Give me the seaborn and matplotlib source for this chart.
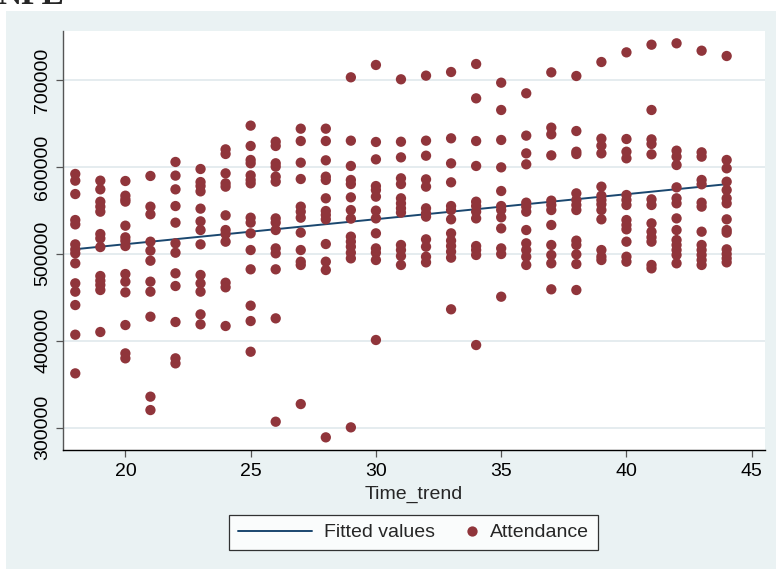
import numpy as np
import pandas as pd
import matplotlib
matplotlib.use("Agg")
import matplotlib.pyplot as plt
from matplotlib.patches import Rectangle
from matplotlib.lines import Line2D
from matplotlib.legend_handler import HandlerLine2D
import seaborn as sns

# Attendance by time-trend value
att_18 = [591900, 584200, 568800, 538900, 533900, 510900, 505100, 500600, 489100, 466100, 456500, 441100, 407000, 362500]
att_19 = [584200, 574200, 560000, 554300, 548500, 522800, 517800, 507800, 474500, 469100, 464200, 458400, 410100]
att_20 = [583800, 566900, 562700, 560100, 532400, 519000, 515000, 509000, 476800, 468000, 455700, 418100, 385500, 379800]
att_21 = [589600, 554300, 545500, 514000, 503700, 492100, 468000, 456500, 427700, 335700, 320300]
att_22 = [605700, 590000, 574200, 555000, 535900, 512100, 501300, 477600, 463000, 421600, 379800, 374000]
att_23 = [597600, 582600, 578000, 571900, 552000, 537400, 527400, 510900, 475700, 466100, 456500, 430400, 418900]
att_24 = [620200, 614900, 592600, 581100, 577300, 544300, 527400, 522800, 514000, 466800, 461500, 417000]
att_25 = [647500, 624100, 608000, 604200, 590300, 585000, 581100, 541600, 535900, 523600, 504400, 482200, 440400, 422700, 387400]
att_26 = [629000, 624100, 604200, 600300, 588800, 583100, 540800, 535900, 527400, 506300, 500600, 482200, 425800, 306900]
att_27 = [644000, 629800, 604900, 586100, 554300, 548500, 541600, 524400, 504400, 491000, 487200, 327200]
att_28 = [644000, 629800, 607600, 588800, 585000, 563900, 549300, 544700, 539700, 511300, 491000, 481400, 288900]
att_29 = [703100, 630200, 601100, 585000, 580300, 565000, 550400, 540500, 519800, 514000, 508200, 501300, 494800, 300400]
att_30 = [717300, 628700, 608700, 578000, 573400, 565800, 549700, 540800, 523600, 506300, 501300, 492900, 400900]
att_31 = [700800, 629000, 611000, 586900, 580300, 563900, 558100, 552400, 547400, 510200, 504400, 497500, 487200]
att_32 = [705000, 630200, 612900, 585700, 577300, 552400, 546600, 542800, 516700, 508200, 496700, 490200]
att_33 = [709200, 632900, 604100, 582300, 555000, 550400, 539700, 523600, 515200, 509000, 502500, 495600, 436200]
att_34 = [718400, 678900, 629800, 601100, 560000, 555000, 548500, 540800, 509000, 504400, 498700, 395100]
att_35 = [696900, 665500, 631000, 599500, 572300, 555000, 550400, 542000, 529300, 506300, 499800, 450700]
att_36 = [684700, 636000, 615600, 603000, 558900, 554300, 548500, 527400, 512100, 504400, 496700, 487200]
att_37 = [708800, 645200, 637500, 613300, 561200, 556200, 550400, 533200, 510200, 498700, 489100, 459200]
att_38 = [704600, 641300, 617500, 614800, 569600, 561900, 556200, 550400, 515200, 510200, 499400, 488300, 458400]
att_39 = [720700, 632500, 624400, 615600, 577300, 566900, 561900, 557000, 550400, 539700, 504400, 496700, 492900]
att_40 = [731800, 632100, 617500, 609900, 567700, 561900, 556200, 538900, 533200, 528200, 514000, 496700, 491000]
att_41 = [740600, 665500, 631700, 626400, 614500, 562700, 556200, 535100, 525500, 519000, 514000, 487200, 483300]
att_42 = [742200, 618700, 611800, 602200, 576500, 563900, 558100, 540800, 527400, 515900, 510200, 504400, 498700, 489100]
att_43 = [733700, 616800, 611800, 585000, 580000, 558900, 554300, 525500, 510200, 504400, 498700, 492900, 487200]
att_44 = [727600, 608000, 598400, 583000, 573400, 563900, 558100, 539700, 527400, 524400, 505200, 499800, 494800, 490200]

time_values = list(range(18, 45))
columns = [att_18, att_19, att_20, att_21, att_22, att_23, att_24, att_25, att_26,
           att_27, att_28, att_29, att_30, att_31, att_32, att_33, att_34, att_35,
           att_36, att_37, att_38, att_39, att_40, att_41, att_42, att_43, att_44]

x_ticks = [20, 25, 30, 35, 40, 45]
y_ticks = [300000, 400000, 500000, 600000, 700000]

df = pd.DataFrame({
    "Time_trend": np.concatenate([[t] * len(c) for t, c in zip(time_values, columns)]),
    "Attendance": np.concatenate(columns),
})

BG = "#EAF2F3"
MAROON = "#90353B"
NAVY = "#1A476F"

sns.set_style("white")
plt.rcParams["font.family"] = ["Liberation Sans", "DejaVu Sans"]

fig = plt.figure(figsize=(7.76, 5.69), dpi=100)
fig.patch.set_facecolor("white")
fig.patches.append(Rectangle((6 / 776, 0), 1, (569 - 11) / 569, transform=fig.transFigure,
                             facecolor=BG, edgecolor="none", zorder=-10))
# Page header sitting just above the graph frame
fig.text(-3 / 776, 1 - 3.5 / 569, "NFL", fontsize=24, fontweight="bold",
         family=["Liberation Serif", "DejaVu Serif"], va="baseline", ha="left")

ax = fig.add_axes([63 / 776, 1 - 450 / 569, (765 - 63) / 776, (450 - 31) / 569])
ax.set_facecolor("white")

sns.regplot(data=df, x="Time_trend", y="Attendance", scatter=False, ci=None,
            color=NAVY, line_kws={"lw": 1.4, "zorder": 2}, ax=ax)
sns.scatterplot(data=df, x="Time_trend", y="Attendance", color=MAROON, s=55,
                edgecolor="none", linewidth=0, zorder=3, ax=ax)

ax.set_xlim(17.51, 45.53)
ax.set_ylim(274350, 756370)
ax.set_xticks(x_ticks)
ax.set_yticks(y_ticks)
ax.set_yticklabels([str(v) for v in y_ticks], rotation=90, va="center")
ax.set_xlabel("Time_trend", fontsize=14, labelpad=4.2)
ax.set_ylabel("")

ax.yaxis.grid(True, color="#E3EBEE", lw=1.3)
ax.xaxis.grid(False)
ax.set_axisbelow(True)

for side in ("top", "right"):
    ax.spines[side].set_visible(False)
ax.spines["left"].set_color("#555555")
ax.spines["bottom"].set_color("black")
ax.spines["left"].set_linewidth(1.0)
ax.spines["bottom"].set_linewidth(1.0)
ax.tick_params(axis="both", which="major", length=5, width=0.9, color="#555555",
               labelsize=14, labelcolor="black", direction="out")
ax.tick_params(axis="y", pad=3.5)
ax.tick_params(axis="x", pad=4)
ax.tick_params(left=True, bottom=True)


class _EndMarkerHandler(HandlerLine2D):
    """Place the single legend marker near the right end of its key."""
    def get_xdata(self, legend, xdescent, ydescent, width, height, fontsize):
        c = -xdescent + width - 4.5
        return [c - 1, c + 1], [c]


line_handle = Line2D([], [], color=NAVY, lw=1.4)
dot_handle = Line2D([], [], color=MAROON, marker="o", linestyle="none", markersize=7.4,
                    markeredgewidth=0)
leg = fig.legend([line_handle, dot_handle], ["Fitted values", "Attendance"],
                 loc="center", bbox_to_anchor=(413.5 / 776, 1 - 532.5 / 569), ncol=2,
                 fontsize=14, frameon=True, fancybox=False, handlelength=3.8,
                 handletextpad=0.62, columnspacing=-1.6, borderpad=0.45,
                 handler_map={dot_handle: _EndMarkerHandler()})
leg.get_frame().set_edgecolor("black")
leg.get_frame().set_linewidth(0.9)
leg.get_frame().set_facecolor("white")

fig.savefig("out.png", dpi=100, facecolor=fig.get_facecolor())
